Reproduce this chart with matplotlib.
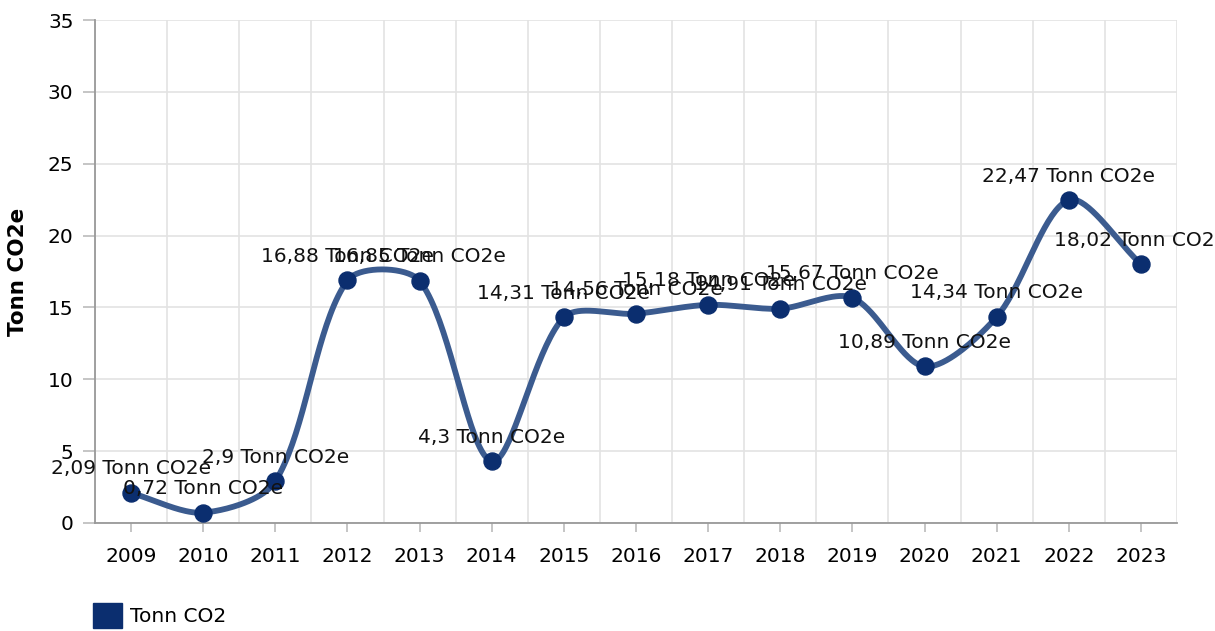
import numpy as np
import matplotlib.pyplot as plt
from matplotlib.patches import Patch

years = ['2009', '2010', '2011', '2012', '2013', '2014', '2015', '2016',
         '2017', '2018', '2019', '2020', '2021', '2022', '2023']
values = [2.09, 0.72, 2.9, 16.88, 16.85, 4.3, 14.31, 14.56,
          15.18, 14.91, 15.67, 10.89, 14.34, 22.47, 18.02]
labels = ['2,09', '0,72', '2,9', '16,88', '16,85', '4,3', '14,31', '14,56',
          '15,18', '14,91', '15,67', '10,89', '14,34', '22,47', '18,02']


def smooth_path(pts, tension=0.3, n=40):
    # cubic bezier spline through the points, control points built in pixel space
    out = [pts[:1]]
    cps = []
    for i in range(len(pts)):
        cur = pts[i]
        prev = pts[i - 1] if i > 0 else cur
        nxt = pts[i + 1] if i < len(pts) - 1 else cur
        d01 = np.hypot(*(cur - prev))
        d12 = np.hypot(*(nxt - cur))
        tot = d01 + d12
        s01 = d01 / tot if tot else 0
        s12 = d12 / tot if tot else 0
        cps.append((cur - tension * s01 * (nxt - prev),
                    cur + tension * s12 * (nxt - prev)))
    t = np.linspace(0, 1, n)[1:, None]
    for i in range(len(pts) - 1):
        p0, p3 = pts[i], pts[i + 1]
        p1, p2 = cps[i][1], cps[i + 1][0]
        seg = ((1 - t) ** 3 * p0 + 3 * (1 - t) ** 2 * t * p1
               + 3 * (1 - t) * t ** 2 * p2 + t ** 3 * p3)
        out.append(seg)
    return np.vstack(out)


fs = 14.5
fig = plt.figure(figsize=(12.15, 6.31), dpi=100)
ax = fig.add_axes([0.0782, 0.1712, 0.8905, 0.7971])

x = np.arange(len(years))
ax.set_xlim(-0.5, len(years) - 0.5)
ax.set_ylim(0, 35)

pix = ax.transData.transform(np.column_stack([x, values]))
curve = ax.transData.inverted().transform(smooth_path(pix))
ax.plot(curve[:, 0], curve[:, 1], color='#3b5b8f', lw=4.2,
        solid_capstyle='round', zorder=3)
ax.scatter(x, values, s=150, color='#0b2e6f', zorder=4)

for xi, v, lab in zip(x, values, labels):
    ax.annotate(lab + ' Tonn CO2e', (xi, v), xytext=(0, 24),
                textcoords='offset pixels', ha='center', va='center',
                fontsize=fs, color='#111111', zorder=5, annotation_clip=False)

ax.set_yticks(range(0, 36, 5))
ax.set_xticks(x)
ax.set_xticklabels(years)
ax.set_xticks(np.arange(-0.5, len(years), 1), minor=True)
ax.grid(axis='x', which='minor', color='#e3e3e3', lw=1.2)
ax.grid(axis='y', which='major', color='#e3e3e3', lw=1.2)
ax.set_axisbelow(True)

for s in ['top', 'right']:
    ax.spines[s].set_visible(False)
for s in ['left', 'bottom']:
    ax.spines[s].set_color('#999999')
    ax.spines[s].set_linewidth(1.3)
ax.tick_params(axis='y', length=8.5, width=1.2, color='#bbbbbb', pad=7, labelsize=fs)
ax.tick_params(axis='x', which='major', length=6.5, width=1.2, color='#bbbbbb', pad=11, labelsize=fs)
ax.tick_params(axis='x', which='minor', length=0)

ax.set_ylabel('Tonn CO2e', fontsize=15.5, fontweight='bold', labelpad=14)

fig.legend(handles=[Patch(color='#0b2e6f')], labels=['Tonn CO2'],
           loc='lower left', bbox_to_anchor=(0.062, -0.024), frameon=False,
           fontsize=fs, handlelength=1.4, handleheight=1.5, handletextpad=0.4)

fig.savefig('out.png', dpi=100)
